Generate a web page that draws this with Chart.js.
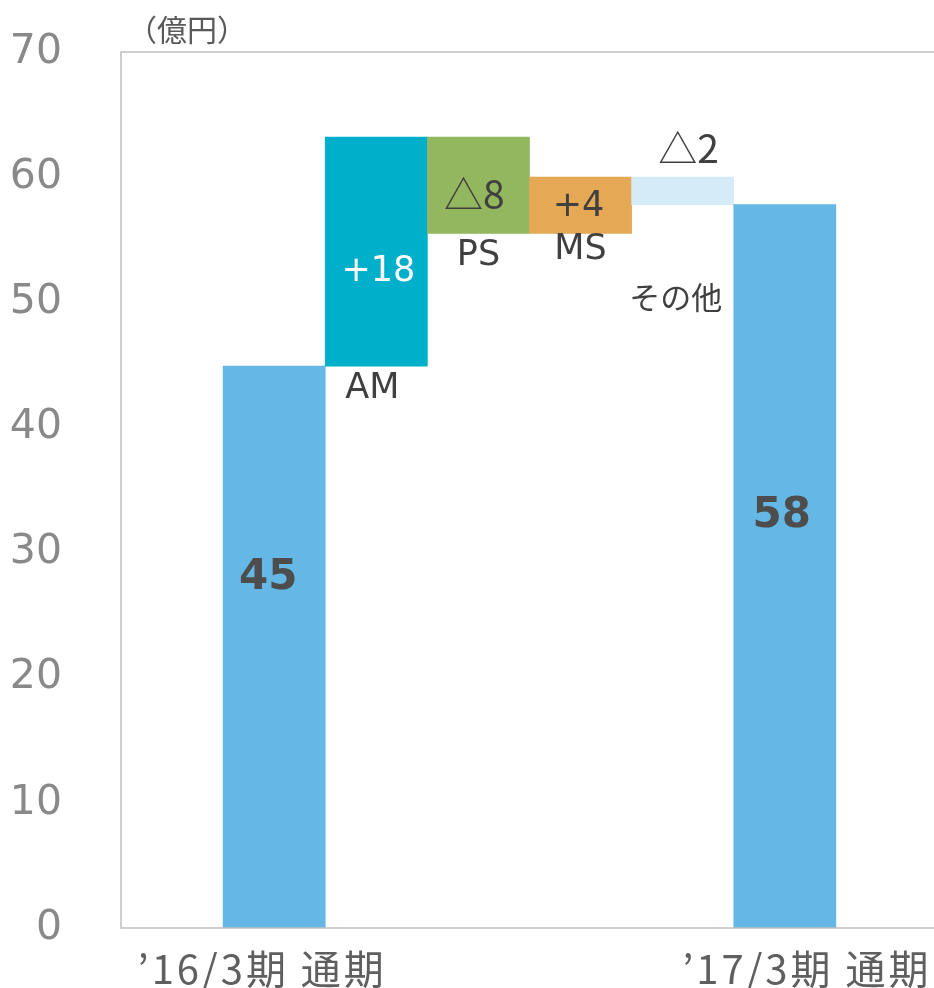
<!DOCTYPE html>
<html>
<head>
<meta charset="utf-8">
<script src="https://cdn.jsdelivr.net/npm/chart.js@4.4.1/dist/chart.umd.min.js"></script>
<style>
  html, body { margin: 0; padding: 0; background: #fff; overflow: hidden; }
  #wrap { width: 942px; height: 988px; }
</style>
</head>
<body>
<div id="wrap"><canvas id="chart"></canvas></div>
<script>
// data (億円)
const categories = ['', '’16/3期 通期', 'AM', 'PS', 'MS', 'その他', '’17/3期 通期', ''];
const barBottoms = [null, 0, 44.9, 55.5, 55.5, 57.8, 0, null];
const barTops = [null, 44.9, 63.2, 63.2, 60.0, 60.0, 57.8, null];
const valueLabels = ['', '45', '+18', '△8', '+4', '△2', '58', ''];
const yTicks = [0, 10, 20, 30, 40, 50, 60, 70];
const unitLabel = '（億円）';

const barColors = ['#ffffff', '#65b8e6', '#00afca', '#92b75f', '#e5a854', '#d5ebf8', '#65b8e6', '#ffffff'];

const LATIN = '"DejaVu Sans", "Noto Sans CJK JP", sans-serif';
const CJK = '"Noto Sans CJK JP", sans-serif';

// text drawn in the bars: category index, value position, pixel nudge
const annotations = [
  { i: 1, v: 28.0, dx: -6, text: valueLabels[1], font: 'bold 42px ' + LATIN, color: '#4d4d4d' },
  { i: 2, v: 52.4, dx: 2, text: valueLabels[2], font: '35px ' + LATIN, color: '#ffffff' },
  { i: 2, v: 43.1, dx: -4, text: categories[2], font: '35px ' + LATIN, color: '#404040' },
  { i: 3, v: 58.6, dx: -4, text: valueLabels[3], font: '39px ' + CJK, color: '#404040' },
  { i: 3, v: 53.7, dx: 0, text: categories[3], font: '35px ' + LATIN, color: '#404040' },
  { i: 4, v: 57.6, dx: -2, text: valueLabels[4], font: '35px ' + LATIN, color: '#404040' },
  { i: 4, v: 54.2, dx: 0, text: categories[4], font: '35px ' + LATIN, color: '#404040' },
  { i: 5, v: 62.3, dx: 6, text: valueLabels[5], font: '39px ' + CJK, color: '#404040' },
  { i: 5, v: 50.4, dx: -7, text: categories[5], font: '31px ' + CJK, color: '#404040' },
  { i: 6, v: 32.9, dx: -3, text: valueLabels[6], font: 'bold 42px ' + LATIN, color: '#4d4d4d' }
];

const axisLabels = [
  { i: 1, dx: -12, text: categories[1] },
  { i: 6, dx: 22, text: categories[6] }
];

const overlay = {
  id: 'overlay',
  afterDatasetsDraw(chart) {
    const { ctx, chartArea: a, scales: { x, y } } = chart;
    ctx.save();
    // frame (right side falls outside the picture)
    ctx.strokeStyle = '#bfbfbf';
    ctx.lineWidth = 1.5;
    ctx.beginPath();
    ctx.moveTo(a.right + 10, a.top);
    ctx.lineTo(a.left, a.top);
    ctx.lineTo(a.left, a.bottom);
    ctx.lineTo(a.right + 10, a.bottom);
    ctx.stroke();

    ctx.textAlign = 'center';
    ctx.textBaseline = 'middle';
    annotations.forEach(t => {
      ctx.font = t.font;
      ctx.fillStyle = t.color;
      ctx.fillText(t.text, x.getPixelForValue(t.i) + t.dx, y.getPixelForValue(t.v));
    });

    ctx.font = '40px ' + CJK;
    ctx.fillStyle = '#5f5f5f';
    ctx.letterSpacing = '3px';
    axisLabels.forEach(t => {
      ctx.fillText(t.text, x.getPixelForValue(t.i) + t.dx, a.bottom + 41);
    });
    ctx.letterSpacing = '0px';

    ctx.textAlign = 'left';
    ctx.font = '30px ' + CJK;
    ctx.fillStyle = '#595959';
    ctx.fillText(unitLabel, a.left + 6, a.top - 22);
    ctx.restore();
  }
};

new Chart(document.getElementById('chart'), {
  type: 'bar',
  data: {
    labels: categories,
    datasets: [{
      data: categories.map((c, i) => barTops[i] == null ? null : [barBottoms[i], barTops[i]]),
      backgroundColor: barColors,
      borderWidth: 0,
      barPercentage: 1,
      categoryPercentage: 1
    }]
  },
  options: {
    responsive: true,
    maintainAspectRatio: false,
    animation: false,
    layout: { padding: { top: 52, bottom: 60, left: 0, right: 4 } },
    plugins: { legend: { display: false }, tooltip: { enabled: false } },
    scales: {
      x: { display: false },
      y: {
        min: 0,
        max: 70,
        afterBuildTicks: s => { s.ticks = yTicks.map(v => ({ value: v })); },
        afterFit: s => { s.width = 121; s.paddingTop = 0; s.paddingBottom = 0; },
        grid: { display: false, drawTicks: false },
        border: { display: false },
        ticks: {
          padding: 59,
          color: '#898989',
          font: { family: LATIN, size: 41 }
        }
      }
    }
  },
  plugins: [overlay]
});
</script>
</body>
</html>
